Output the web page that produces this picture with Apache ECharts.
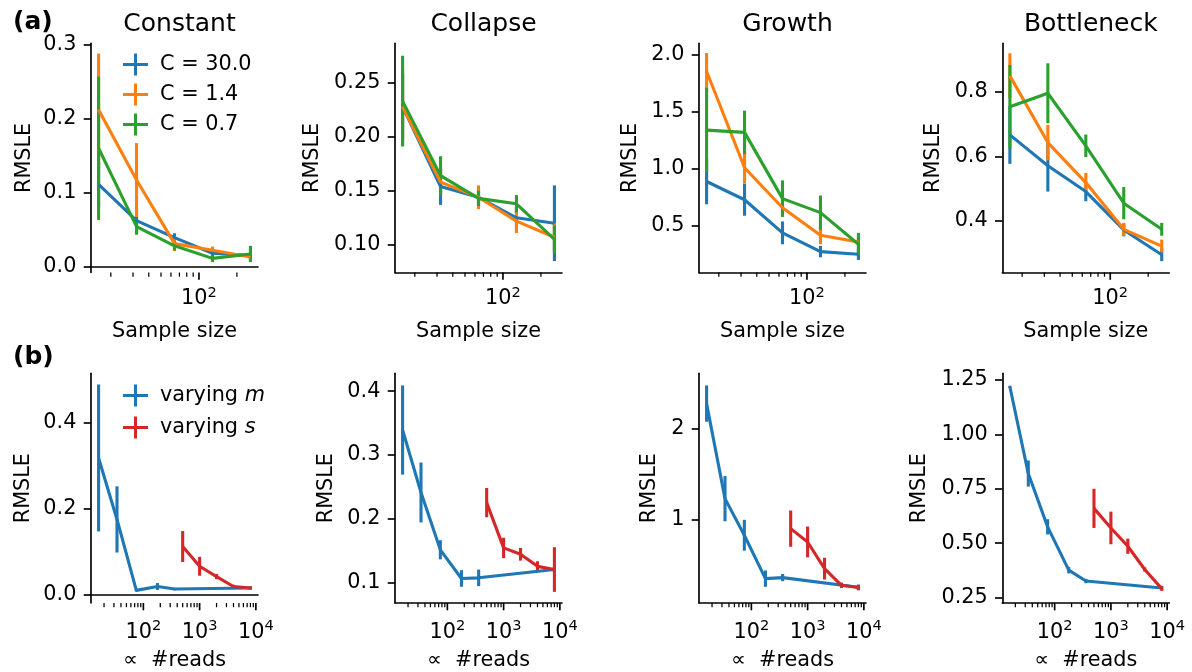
<!DOCTYPE html>
<html><head><meta charset="utf-8">
<script src="https://cdn.jsdelivr.net/npm/echarts@6/dist/echarts.min.js"></script>
<style>html,body{margin:0;padding:0;background:#fff}#c{width:1192px;height:672px}</style>
</head><body><div id="c"></div>
<script>
// ---------- DATA ----------
const panelTitles = ['Constant', 'Collapse', 'Growth', 'Bottleneck'];
const seriesNamesA = ['C = 30.0', 'C = 1.4', 'C = 0.7'];
const seriesNamesB = ['varying m', 'varying s'];
const sampleSizes = [16, 32, 64, 128, 256];
const readsM = [16, 34, 75, 178, 360, 8000];
const readsS = [500, 1000, 2000, 4000, 8000];

// (a) RMSLE vs sample size: means and error half-widths
const constantC30 = [0.111, 0.062, 0.039, 0.018, 0.015];
const constantC30Err = [0.03, 0.017, 0.006, 0.004, 0.004];
const constantC14 = [0.212, 0.117, 0.031, 0.022, 0.013];
const constantC14Err = [0.076, 0.05, 0.01, 0.005, 0.004];
const constantC07 = [0.160, 0.054, 0.028, 0.011, 0.017];
const constantC07Err = [0.097, 0.011, 0.006, 0.005, 0.011];

const collapseC30 = [0.228, 0.154, 0.144, 0.125, 0.120];
const collapseC30Err = [0.03, 0.017, 0.008, 0.01, 0.035];
const collapseC14 = [0.228, 0.158, 0.144, 0.122, 0.107];
const collapseC14Err = [0.035, 0.012, 0.011, 0.011, 0.013];
const collapseC07 = [0.233, 0.164, 0.143, 0.138, 0.105];
const collapseC07Err = [0.042, 0.018, 0.007, 0.008, 0.013];

const growthC30 = [0.89, 0.73, 0.44, 0.276, 0.253];
const growthC30Err = [0.2, 0.14, 0.1, 0.05, 0.05];
const growthC14 = [1.855, 1.01, 0.66, 0.42, 0.36];
const growthC14Err = [0.16, 0.14, 0.08, 0.08, 0.04];
const growthC07 = [1.34, 1.32, 0.74, 0.617, 0.34];
const growthC07Err = [0.37, 0.19, 0.16, 0.15, 0.1];

const bottleneckC30 = [0.667, 0.571, 0.491, 0.372, 0.295];
const bottleneckC30Err = [0.09, 0.08, 0.03, 0.02, 0.02];
const bottleneckC14 = [0.85, 0.643, 0.519, 0.374, 0.322];
const bottleneckC14Err = [0.07, 0.055, 0.03, 0.02, 0.02];
const bottleneckC07 = [0.754, 0.796, 0.633, 0.455, 0.374];
const bottleneckC07Err = [0.13, 0.093, 0.035, 0.05, 0.02];

// (b) RMSLE vs #reads
const constantM = [0.318, 0.175, 0.010, 0.019, 0.013, 0.0155];
const constantMErr = [0.171, 0.077, 0.003, 0.008, 0.003, 0.003];
const constantS = [0.112, 0.066, 0.042, 0.019, 0.0155];
const constantSErr = [0.036, 0.022, 0.006, 0.004, 0.004];

const collapseM = [0.339, 0.241, 0.151, 0.106, 0.107, 0.12];
const collapseMErr = [0.07, 0.047, 0.015, 0.013, 0.013, 0.004];
const collapseS = [0.225, 0.154, 0.144, 0.125, 0.12];
const collapseSErr = [0.023, 0.016, 0.01, 0.008, 0.035];

const growthM = [2.276, 1.228, 0.824, 0.346, 0.357, 0.25];
const growthMErr = [0.2, 0.25, 0.17, 0.09, 0.04, 0.03];
const growthS = [0.897, 0.75, 0.456, 0.272, 0.247];
const growthSErr = [0.2, 0.17, 0.12, 0.03, 0.03];

const bottleneckM = [1.219, 0.82, 0.575, 0.376, 0.326, 0.294];
const bottleneckMErr = [0.005, 0.06, 0.035, 0.015, 0.01, 0.01];
const bottleneckS = [0.66, 0.57, 0.486, 0.379, 0.291];
const bottleneckSErr = [0.09, 0.075, 0.035, 0.01, 0.01];

// axis tick values
const yTicksA = [[0, 0.1, 0.2, 0.3], [0.10, 0.15, 0.20, 0.25], [0.5, 1.0, 1.5, 2.0], [0.4, 0.6, 0.8]];
const yTicksB = [[0, 0.2, 0.4], [0.1, 0.2, 0.3, 0.4], [1, 2], [0.25, 0.5, 0.75, 1.0, 1.25]];
const yDecA = [1, 2, 1, 1];
const yDecB = [1, 1, 0, 2];
const yRangeA = [[-0.0081, 0.302], [0.0744, 0.2865], [0.093, 2.10], [0.24, 0.951]];
const yRangeB = [[-0.0194, 0.515], [0.0675, 0.428], [0.077, 2.61], [0.225, 1.281]];
const xTicksA = [20, 30, 40, 50, 60, 70, 80, 90, 100, 200];
const xTicksB = [20, 30, 40, 50, 60, 70, 80, 90, 100, 200, 300, 400, 500, 600, 700, 800, 900, 1000,
  2000, 3000, 4000, 5000, 6000, 7000, 8000, 9000, 10000];
const xRangeA = [13.929, 293.99];
const xRangeB = [11.727, 10915];

// ---------- STYLE / LAYOUT ----------
const FONT = 'DejaVu Sans';
const FS = 20.8;
const colorsA = ['#1f77b4', '#ff7f0e', '#2ca02c'];
const colorsB = ['#1f77b4', '#d62728'];
const lefts = [91, 395, 699, 1002.3];
const W = 167;
const topA = 43.3, hA = 229.2;
const topB = 373.3, hB = 229.8;
const nameGapA = [56, 72, 58, 58];
const nameGapB = [57, 58, 39, 72];

const meansA = [
  [constantC30, constantC14, constantC07],
  [collapseC30, collapseC14, collapseC07],
  [growthC30, growthC14, growthC07],
  [bottleneckC30, bottleneckC14, bottleneckC07]];
const errsA = [
  [constantC30Err, constantC14Err, constantC07Err],
  [collapseC30Err, collapseC14Err, collapseC07Err],
  [growthC30Err, growthC14Err, growthC07Err],
  [bottleneckC30Err, bottleneckC14Err, bottleneckC07Err]];
const meansB = [[constantM, constantS], [collapseM, collapseS], [growthM, growthS], [bottleneckM, bottleneckS]];
const errsB = [[constantMErr, constantSErr], [collapseMErr, collapseSErr], [growthMErr, growthSErr], [bottleneckMErr, bottleneckSErr]];

const PLUS = 'path://M0,9.5H25V12.5H0Z M11,0H14V22H11Z';

function renderErr(params, api) {
  const x = api.value(0);
  const p1 = api.coord([x, api.value(1)]);
  const p2 = api.coord([x, api.value(2)]);
  return {type: 'line', shape: {x1: p1[0], y1: p1[1], x2: p2[0], y2: p2[1]},
    style: {stroke: api.visual('color'), lineWidth: 3.1}};
}
function renderTick(params, api) {
  const p = api.coord([api.value(0), api.value(1)]);
  const cs = params.coordSys;
  const y0 = cs.y + cs.height;
  const major = api.value(2) === 1;
  return {type: 'line', shape: {x1: p[0], y1: y0, x2: p[0], y2: y0 + (major ? 7.3 : 4.2)},
    style: {stroke: '#000', lineWidth: major ? 1.67 : 1.25}};
}
function isPow10(v) {
  const e = Math.round(Math.log10(v));
  return Math.abs(v - Math.pow(10, e)) < 1e-6 * v;
}
function logFmt(v) {
  if (!isPow10(v)) return '';
  return '{b|10}{s|' + Math.round(Math.log10(v)) + '}';
}

const grids = [], xAxes = [], yAxes = [], series = [];
function addPanel(idx, left, top, h, xRange, xTicks, yRange, yTicks, dec, nameGap, xName, xMargin, xNameGap) {
  grids.push({left: left, top: top, width: W, height: h});
  xAxes.push({
    type: 'log', logBase: 10, gridIndex: idx, min: xRange[0], max: xRange[1],
    axisLine: {show: true, lineStyle: {color: '#000', width: 1.67}},
    axisTick: {show: false}, splitLine: {show: false}, minorTick: {show: false},
    axisLabel: {formatter: logFmt, margin: xMargin, color: '#000',
      rich: {b: {fontSize: FS, fontFamily: FONT, color: '#000', verticalAlign: 'bottom', lineHeight: 24},
             s: {fontSize: 14.6, fontFamily: FONT, color: '#000', verticalAlign: 'top', lineHeight: 14}}},
    name: xName, nameLocation: 'middle', nameGap: xNameGap,
    nameTextStyle: {fontSize: FS, fontFamily: FONT, color: '#000'}
  });
  yAxes.push({
    type: 'value', gridIndex: idx, min: yRange[0], max: yRange[1],
    axisLine: {show: true, lineStyle: {color: '#000', width: 1.67}},
    axisTick: {show: true, length: 7.3, customValues: yTicks, lineStyle: {color: '#000', width: 1.67}},
    axisLabel: {customValues: yTicks, margin: 14.6, fontSize: FS, fontFamily: FONT, color: '#000',
      formatter: v => v.toFixed(dec)},
    splitLine: {show: false},
    name: 'RMSLE', nameLocation: 'middle', nameGap: nameGap,
    nameTextStyle: {fontSize: FS, fontFamily: FONT, color: '#000'}
  });
  series.push({
    type: 'custom', xAxisIndex: idx, yAxisIndex: idx, renderItem: renderTick, clip: false, silent: true,
    data: xTicks.map(v => [v, yRange[0], isPow10(v) ? 1 : 0]), z: 3
  });
}

for (let i = 0; i < 4; i++) {
  addPanel(i, lefts[i], topA, hA, xRangeA, xTicksA, yRangeA[i], yTicksA[i], yDecA[i], nameGapA[i], 'Sample size', 13, 49);
  for (let k = 0; k < 3; k++) {
    const m = meansA[i][k], e = errsA[i][k];
    series.push({type: 'line', name: seriesNamesA[k], xAxisIndex: i, yAxisIndex: i,
      data: sampleSizes.map((x, j) => [x, m[j]]), symbol: 'none',
      lineStyle: {width: 3.1, color: colorsA[k]}, itemStyle: {color: colorsA[k]}, silent: true});
    series.push({type: 'custom', name: seriesNamesA[k], xAxisIndex: i, yAxisIndex: i,
      data: sampleSizes.map((x, j) => [x, m[j] - e[j], m[j] + e[j]]), encode: {x: 0, y: [1, 2]},
      renderItem: renderErr, itemStyle: {color: colorsA[k]}, clip: false, silent: true});
  }
}
for (let i = 0; i < 4; i++) {
  const idx = 4 + i;
  addPanel(idx, lefts[i], topB, hB, xRangeB, xTicksB, yRangeB[i], yTicksB[i], yDecB[i], nameGapB[i], '\u221d  #reads', 16, 47);
  const xs = [readsM, readsS];
  for (let k = 0; k < 2; k++) {
    const m = meansB[i][k], e = errsB[i][k];
    series.push({type: 'line', name: seriesNamesB[k], xAxisIndex: idx, yAxisIndex: idx,
      data: xs[k].map((x, j) => [x, m[j]]), symbol: 'none',
      lineStyle: {width: 3.1, color: colorsB[k]}, itemStyle: {color: colorsB[k]}, silent: true});
    series.push({type: 'custom', name: seriesNamesB[k], xAxisIndex: idx, yAxisIndex: idx,
      data: xs[k].map((x, j) => [x, m[j] - e[j], m[j] + e[j]]), encode: {x: 0, y: [1, 2]},
      renderItem: renderErr, itemStyle: {color: colorsB[k]}, clip: false, silent: true});
  }
}

const titles = panelTitles.map((t, i) => ({
  text: t, left: lefts[i] + W / 2, top: 6.5, textAlign: 'center',
  textStyle: {fontSize: 25, fontWeight: 'normal', fontFamily: FONT, color: '#000'}
}));
titles.push({text: '(a)', left: 8, top: 5, textStyle: {fontSize: 25, fontWeight: 'bold', fontFamily: FONT, color: '#000'}});
titles.push({text: '(b)', left: 8, top: 340, textStyle: {fontSize: 25, fontWeight: 'bold', fontFamily: FONT, color: '#000'}});

const legendText = {fontSize: FS, fontFamily: FONT, color: '#000', padding: [0, 0, 0, 7],
  rich: {i: {fontSize: FS, fontFamily: FONT, color: '#000', fontStyle: 'italic'}}};

const option = {
  animation: false,
  backgroundColor: '#fff',
  title: titles,
  legend: [
    {data: seriesNamesA.map(n => ({name: n, icon: PLUS})), orient: 'vertical', left: 118, top: 48.5,
      itemWidth: 25, itemHeight: 22, itemGap: 8, selectedMode: false, textStyle: legendText},
    {data: seriesNamesB.map(n => ({name: n, icon: PLUS})), orient: 'vertical', left: 118, top: 379.5,
      itemWidth: 25, itemHeight: 22, itemGap: 10, selectedMode: false, textStyle: legendText,
      formatter: n => n.replace(/ (\w)$/, ' {i|$1}')}
  ],
  grid: grids, xAxis: xAxes, yAxis: yAxes, series: series
};
const chart = echarts.init(document.getElementById('c'), null, {renderer: 'canvas'});
chart.setOption(option);
</script></body></html>
